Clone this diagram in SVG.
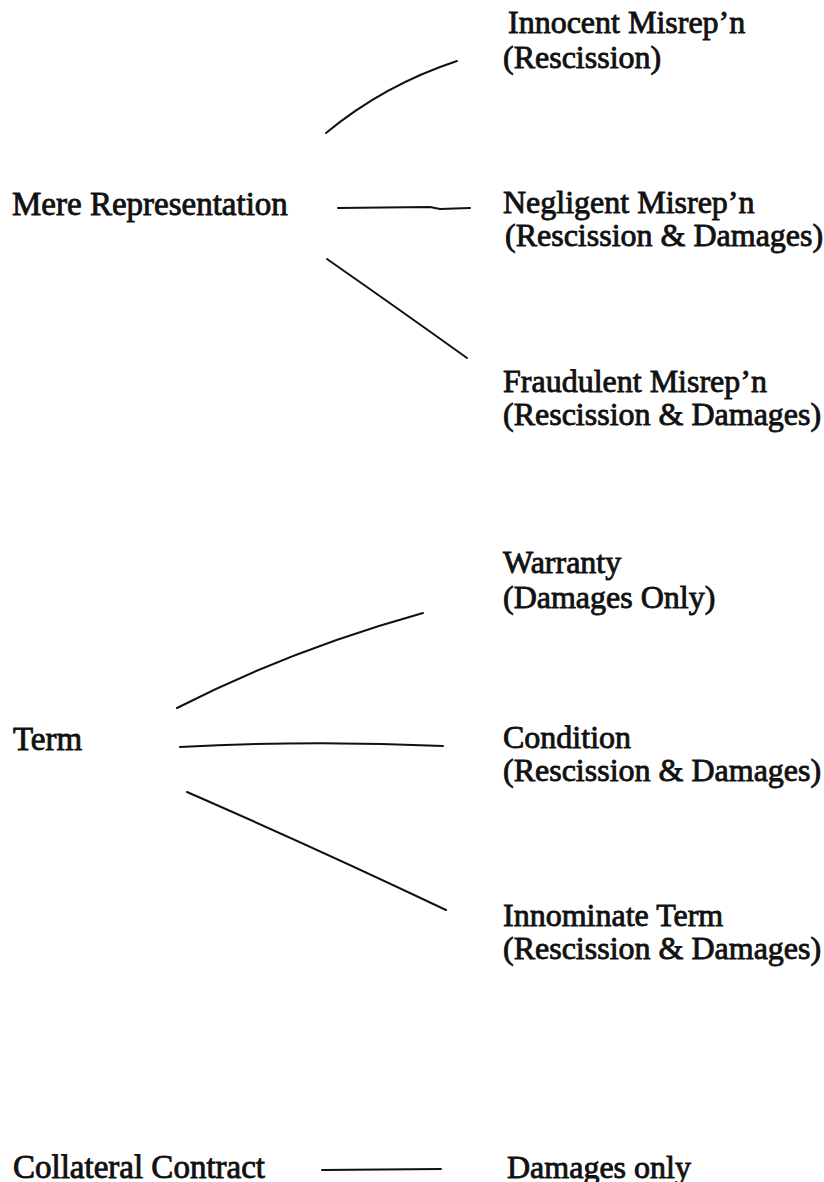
<svg xmlns="http://www.w3.org/2000/svg" width="824" height="1182" viewBox="0 0 824 1182">
<style>
.t{font-family:"Liberation Serif","Times New Roman",serif;font-size:32px;fill:#111;stroke:#111;stroke-width:0.85px}
.l{font-size:33px}
.c{fill:none;stroke:#111;stroke-width:2;stroke-linecap:round}
</style>
<rect width="824" height="1182" fill="#fff"/>
<g id="mere-representation"><text class="t l" x="12" y="215">Mere Representation</text></g>
<g id="innocent"><text class="t" x="508" y="33">Innocent Misrep’n</text><text class="t" x="503" y="68">(Rescission)</text></g>
<g id="negligent"><text class="t" x="503" y="213">Negligent Misrep’n</text><text class="t" x="505" y="246">(Rescission &amp; Damages)</text></g>
<g id="fraudulent"><text class="t" x="503" y="392">Fraudulent Misrep’n</text><text class="t" x="503" y="425">(Rescission &amp; Damages)</text></g>
<g id="term"><text class="t l" x="13" y="750">Term</text></g>
<g id="warranty"><text class="t" x="503" y="573">Warranty</text><text class="t" x="503" y="608">(Damages Only)</text></g>
<g id="condition"><text class="t" x="503" y="748">Condition</text><text class="t" x="503" y="781">(Rescission &amp; Damages)</text></g>
<g id="innominate"><text class="t" x="503" y="926">Innominate Term</text><text class="t" x="503" y="959">(Rescission &amp; Damages)</text></g>
<g id="collateral-contract"><text class="t l" x="13" y="1178">Collateral Contract</text></g>
<g id="damages-only"><text class="t" x="507" y="1178">Damages only</text></g>
<g id="connectors">
<path class="c" d="M326 133 Q384 85 457 61"/>
<path class="c" d="M338 208 L430 207 L440 209 L470 208"/>
<path class="c" d="M327 259 Q400 310 467 358"/>
<path class="c" d="M177 708 Q290 650 423 613"/>
<path class="c" d="M180 747 Q310 740 443 746"/>
<path class="c" d="M187 792 Q320 850 446 910"/>
<path class="c" d="M322 1170 L441 1169"/>
</g>
</svg>
